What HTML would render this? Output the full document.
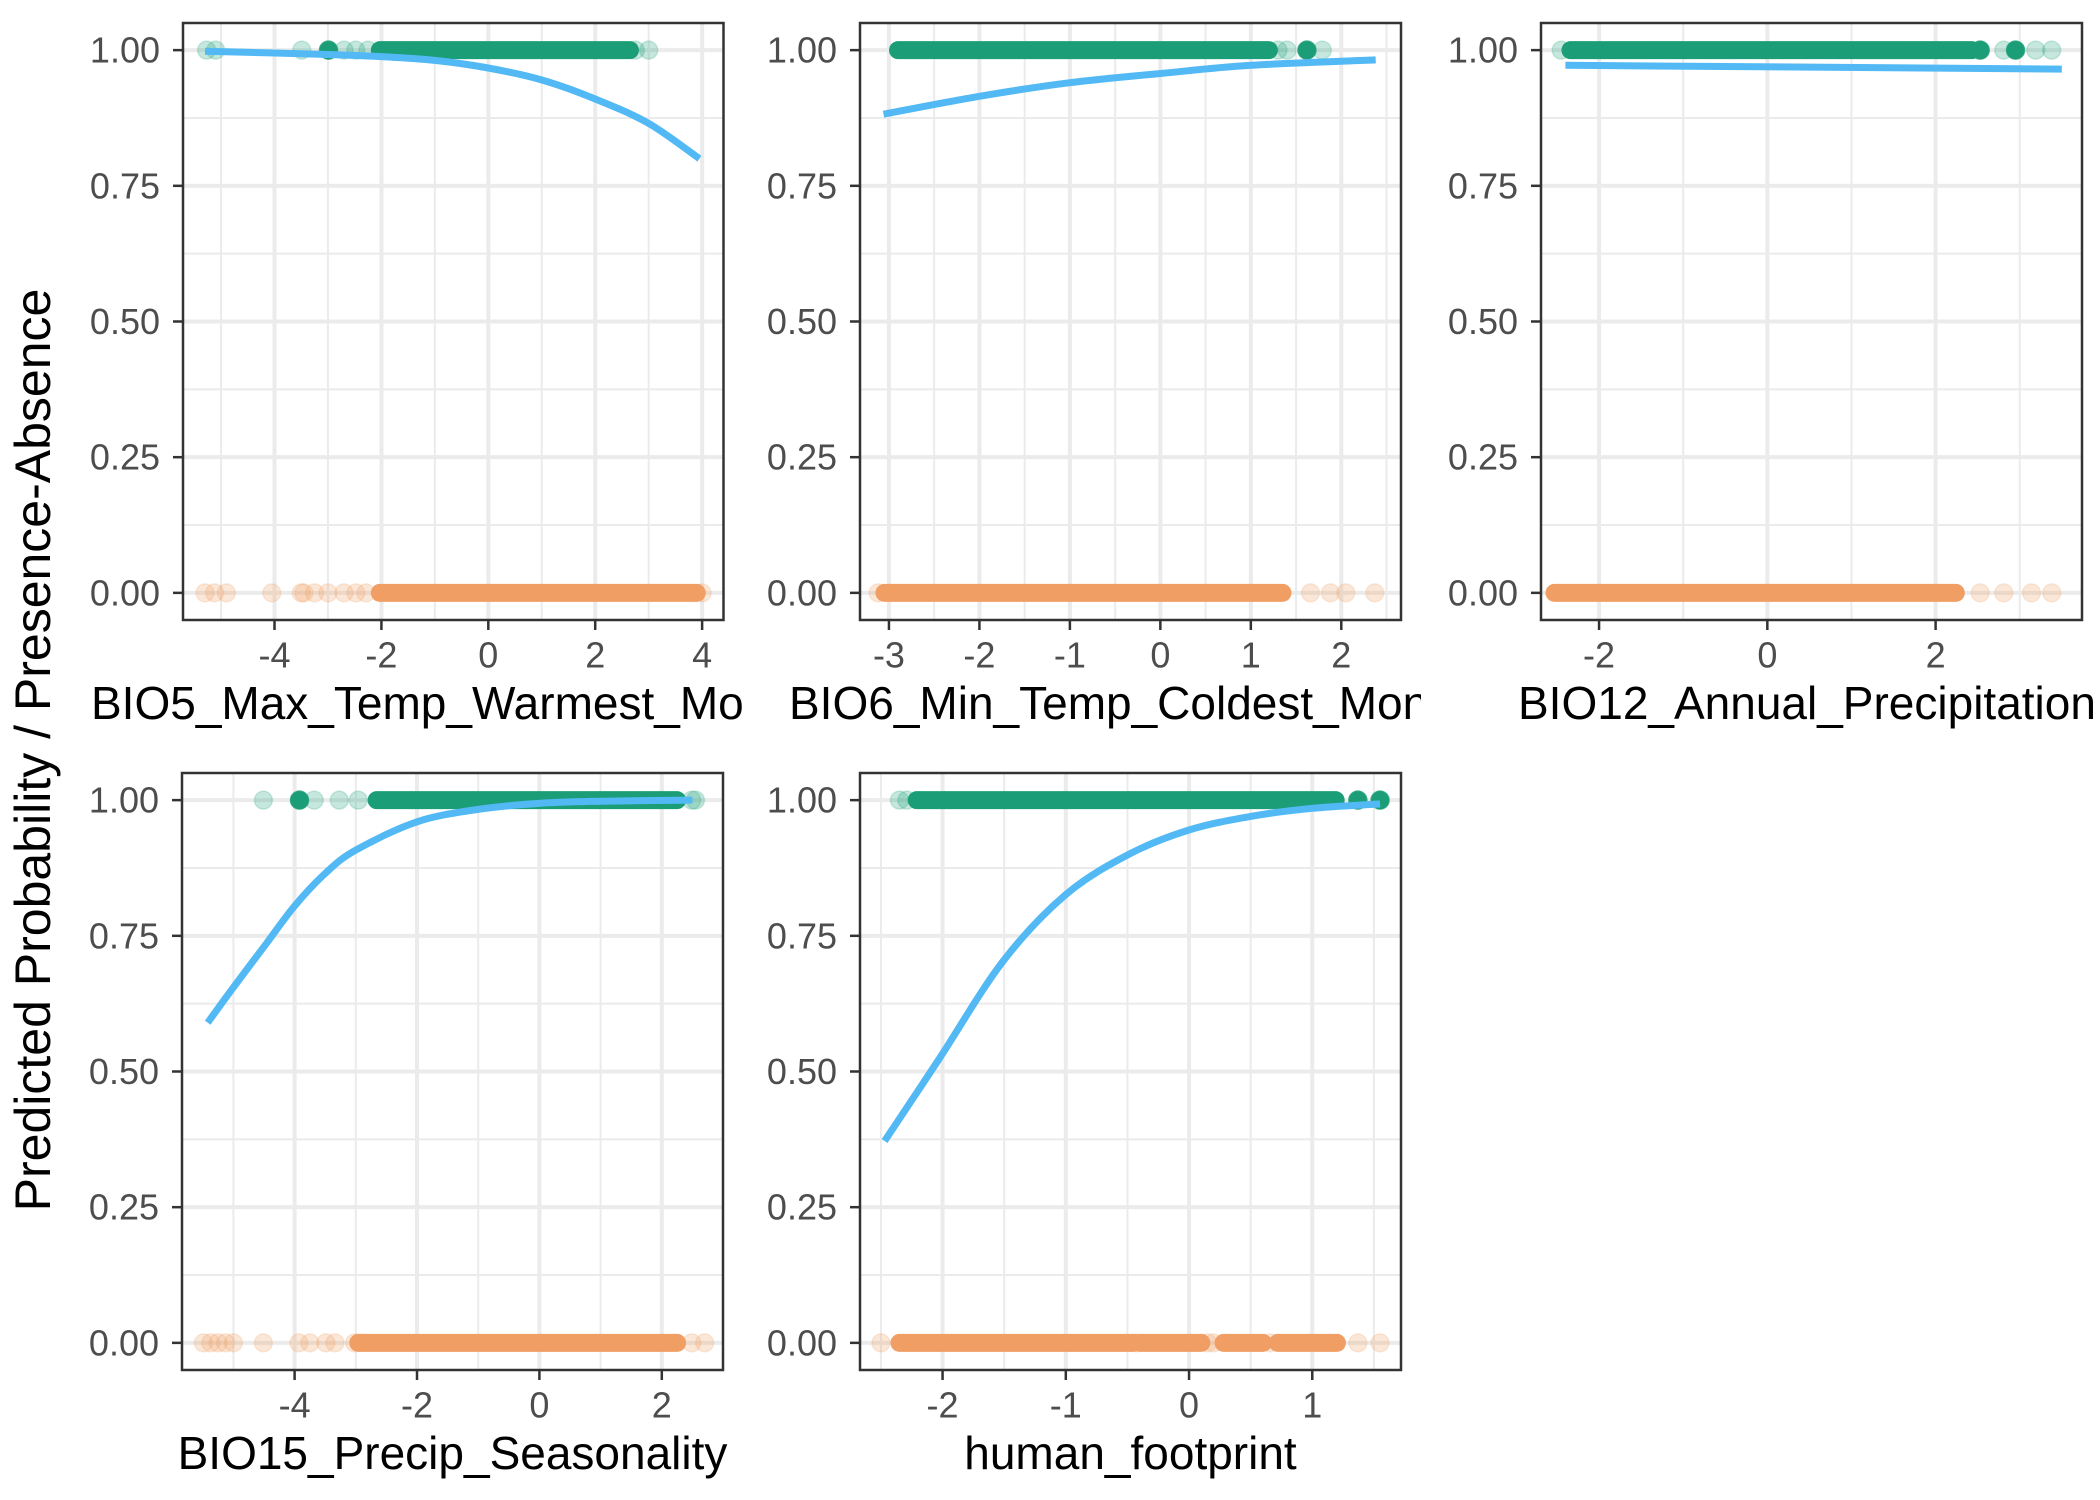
<!DOCTYPE html>
<html><head><meta charset="utf-8"><title>Predicted probability vs predictors</title>
<style>
html,body{margin:0;padding:0;background:#fff;}
svg{display:block;font-family:"Liberation Sans",Arial,sans-serif;}
</style></head>
<body>
<svg id="chart" width="2100" height="1500" viewBox="0 0 2100 1500" xmlns="http://www.w3.org/2000/svg">
<rect width="2100" height="1500" fill="#fff"/>
<text x="33" y="750" transform="rotate(-90 33 750)" text-anchor="middle" dominant-baseline="central" font-size="50" fill="#000">Predicted Probability / Presence-Absence</text>
</svg>
<script>
// ---- Data ----
const yTicks = [0, 0.25, 0.5, 0.75, 1];
const yTickLabels = ["0.00", "0.25", "0.50", "0.75", "1.00"];

const p1Title = "BIO5_Max_Temp_Warmest_Month";
const p1Ticks = [-4, -2, 0, 2, 4];
const p1CurveX = [-5.3, -3, -2, -1, 0, 1, 2, 3, 3.95];
const p1CurveY = [0.998, 0.992, 0.988, 0.981, 0.967, 0.945, 0.91, 0.865, 0.80];
const p1PresDense = [[-2.03, 2.65]];
const p1PresSolid = [-2.99];
const p1PresFaint = [-5.27, -5.1, -3.49, -2.7, -2.48, -2.25, 2.75, 3.0];
const p1AbsDense = [[-2.03, 3.9]];
const p1AbsFaint = [-5.3, -5.12, -4.9, -4.05, -3.5, -3.45, -3.25, -3.0, -2.7, -2.48, -2.29, 4.0];

const p2Title = "BIO6_Min_Temp_Coldest_Month";
const p2Ticks = [-3, -2, -1, 0, 1, 2];
const p2CurveX = [-3.06, -2, -1, 0, 1, 2.38];
const p2CurveY = [0.882, 0.915, 0.94, 0.957, 0.972, 0.982];
const p2PresDense = [[-2.9, 1.2]];
const p2PresSolid = [1.62];
const p2PresFaint = [1.3, 1.4, 1.79];
const p2AbsDense = [[-3.05, 1.35]];
const p2AbsFaint = [-3.12, 1.66, 1.88, 2.05, 2.37];

const p3Title = "BIO12_Annual_Precipitation";
const p3Ticks = [-2, 0, 2];
const p3CurveX = [-2.4, 3.5];
const p3CurveY = [0.972, 0.965];
const p3PresDense = [[-2.34, 2.43]];
const p3PresSolid = [2.53, 2.95];
const p3PresFaint = [-2.45, 2.81, 3.19, 3.38];
const p3AbsDense = [[-2.53, 2.24]];
const p3AbsFaint = [2.53, 2.81, 3.14, 3.38];

const p4Title = "BIO15_Precip_Seasonality";
const p4Ticks = [-4, -2, 0, 2];
const p4CurveX = [-5.42, -5, -4.5, -4, -3.5, -3, -2, -1, 0, 1, 2.5];
const p4CurveY = [0.59, 0.655, 0.73, 0.805, 0.865, 0.908, 0.96, 0.983, 0.994, 0.998, 1.0];
const p4PresDense = [[-2.66, 2.25]];
const p4PresSolid = [-3.92];
const p4PresFaint = [-4.51, -3.68, -3.27, -2.96, 2.49, 2.55];
const p4AbsDense = [[-2.96, 2.25]];
const p4AbsFaint = [-5.49, -5.37, -5.25, -5.13, -5.0, -4.51, -3.93, -3.75, -3.49, -3.34, -3.02, 2.49, 2.7];

const p5Title = "human_footprint";
const p5Ticks = [-2, -1, 0, 1];
const p5CurveX = [-2.47, -2.02, -1.51, -1.0, -0.49, 0, 0.5, 1, 1.55];
const p5CurveY = [0.372, 0.526, 0.703, 0.826, 0.90, 0.945, 0.97, 0.985, 0.993];
const p5PresDense = [[-2.21, 1.19]];
const p5PresSolid = [1.37, 1.55];
const p5PresFaint = [-2.35, -2.29];
const p5AbsDense = [[-2.35, -0.45], [-0.4, 0.1], [0.28, 0.6], [0.72, 1.2]];
const p5AbsFaint = [-2.5, -0.43, 0.15, 0.2, 0.66, 1.37, 1.55];

// ---- Layout ----
const NS = "http://www.w3.org/2000/svg";
const svg = document.getElementById("chart");
const panels = [
  {id:"bio5", title:p1Title, ticks:p1Ticks, cx:p1CurveX, cy:p1CurveY, pd:p1PresDense, ps:p1PresSolid, pf:p1PresFaint, ad:p1AbsDense, af:p1AbsFaint,
   left:183, right:723.5, top:23, bottom:620, dom:[-5.712, 4.40], tLeft:91, tClip:[0,745]},
  {id:"bio6", title:p2Title, ticks:p2Ticks, cx:p2CurveX, cy:p2CurveY, pd:p2PresDense, ps:p2PresSolid, pf:p2PresFaint, ad:p2AbsDense, af:p2AbsFaint,
   left:860, right:1401, top:23, bottom:620, dom:[-3.32, 2.66], tLeft:789, tClip:[760,1421]},
  {id:"bio12", title:p3Title, ticks:p3Ticks, cx:p3CurveX, cy:p3CurveY, pd:p3PresDense, ps:p3PresSolid, pf:p3PresFaint, ad:p3AbsDense, af:p3AbsFaint,
   left:1541, right:2082, top:23, bottom:620, dom:[-2.69, 3.74], tLeft:1518, tClip:[1440,2100]},
  {id:"bio15", title:p4Title, ticks:p4Ticks, cx:p4CurveX, cy:p4CurveY, pd:p4PresDense, ps:p4PresSolid, pf:p4PresFaint, ad:p4AbsDense, af:p4AbsFaint,
   left:182, right:723, top:773, bottom:1370, dom:[-5.84, 3.0], center:true},
  {id:"human-footprint", title:p5Title, ticks:p5Ticks, cx:p5CurveX, cy:p5CurveY, pd:p5PresDense, ps:p5PresSolid, pf:p5PresFaint, ad:p5AbsDense, af:p5AbsFaint,
   left:860, right:1401, top:773, bottom:1370, dom:[-2.67, 1.72], center:true}
];
const GREEN = "#1b9e77", ORANGE = "#f09e64", BLUE = "#52b9f5";
const R = 9;

function el(tag, attrs, parent) {
  const e = document.createElementNS(NS, tag);
  for (const k in attrs) e.setAttribute(k, attrs[k]);
  (parent || svg).appendChild(e);
  return e;
}

function smoothPath(pts) {
  if (pts.length < 3) return pts.map((p, i) => (i ? "L" : "M") + p[0].toFixed(1) + "," + p[1].toFixed(1)).join("");
  let d = "M" + pts[0][0].toFixed(1) + "," + pts[0][1].toFixed(1);
  for (let i = 0; i < pts.length - 1; i++) {
    const p0 = pts[Math.max(0, i - 1)], p1 = pts[i], p2 = pts[i + 1], p3 = pts[Math.min(pts.length - 1, i + 2)];
    const c1 = [p1[0] + (p2[0] - p0[0]) / 6, p1[1] + (p2[1] - p0[1]) / 6];
    const c2 = [p2[0] - (p3[0] - p1[0]) / 6, p2[1] - (p3[1] - p1[1]) / 6];
    d += "C" + c1[0].toFixed(1) + "," + c1[1].toFixed(1) + " " + c2[0].toFixed(1) + "," + c2[1].toFixed(1) + " " + p2[0].toFixed(1) + "," + p2[1].toFixed(1);
  }
  return d;
}

panels.forEach((p, idx) => {
  const g = el("g", {});
  
  
  const xs = v => p.left + (v - p.dom[0]) / (p.dom[1] - p.dom[0]) * (p.right - p.left);
  const y0 = p.top + (p.bottom - p.top) * (1.05 / 1.1);
  const ys = v => y0 - v * (p.bottom - p.top) / 1.1;

  const cp = el("clipPath", {id: "clip" + idx}, g);
  el("rect", {x: p.left, y: p.top, width: p.right - p.left, height: p.bottom - p.top}, cp);

  const minorY = [0.125, 0.375, 0.625, 0.875];
  minorY.forEach(v => {
    const l = el("line", {x1: p.left, x2: p.right, y1: ys(v), y2: ys(v), stroke: "#ebebeb", "stroke-width": 2}, g);
    
    
  });
  const step = p.ticks[1] - p.ticks[0];
  const minorX = [];
  for (let i = -1; i < p.ticks.length; i++) {
    const v = p.ticks[0] + step * (i + 0.5);
    if (v > p.dom[0] && v < p.dom[1]) minorX.push(v);
  }
  minorX.forEach(v => {
    const l = el("line", {x1: xs(v), x2: xs(v), y1: p.top, y2: p.bottom, stroke: "#ebebeb", "stroke-width": 2}, g);
    
    
  });
  yTicks.forEach(v => {
    const l = el("line", {x1: p.left, x2: p.right, y1: ys(v), y2: ys(v), stroke: "#ebebeb", "stroke-width": 4}, g);
    
    
  });
  p.ticks.forEach(v => {
    const l = el("line", {x1: xs(v), x2: xs(v), y1: p.top, y2: p.bottom, stroke: "#ebebeb", "stroke-width": 4}, g);
    
    
  });

  const pg = el("g", {"clip-path": "url(#clip" + idx + ")"}, g);
  function dense(spans, yv, color, name) {
    spans.forEach(s => {
      const r = el("rect", {x: xs(s[0]) - R, y: ys(yv) - R, width: xs(s[1]) - xs(s[0]) + 2 * R, height: 2 * R, rx: R, fill: color}, pg);
      
      
    });
  }
  function dots(vals, yv, color, op, name) {
    vals.forEach(v => {
      const c = el("circle", {cx: xs(v), cy: ys(yv), r: R, fill: color, "fill-opacity": op, stroke: color, "stroke-opacity": op * 0.8, "stroke-width": 1.5}, pg);
      
      
    });
  }
  dots(p.af, 0, ORANGE, 0.25, 'absence-point');
  dense(p.ad, 0, ORANGE, 'absence-points-dense');
  dots(p.pf, 1, GREEN, 0.25, 'presence-point');
  dense(p.pd, 1, GREEN, 'presence-points-dense');
  dots(p.ps, 1, GREEN, 1, 'presence-point-solid');

  const pts = p.cx.map((x, i) => [xs(x), ys(p.cy[i])]);
  const path = el("path", {d: smoothPath(pts), fill: "none", stroke: BLUE, "stroke-width": 7}, pg);
  
  

  const b = el("rect", {x: p.left, y: p.top, width: p.right - p.left, height: p.bottom - p.top, fill: "none", stroke: "#333", "stroke-width": 2.5}, g);
  
  

  yTicks.forEach((v, i) => {
    const t = el("line", {x1: p.left - 10, x2: p.left, y1: ys(v), y2: ys(v), stroke: "#333", "stroke-width": 2.5}, g);
    
    
    const tx = el("text", {x: p.left - 23, y: ys(v), "text-anchor": "end", "dominant-baseline": "central", "font-size": 36, fill: "#4d4d4d"}, g);
    tx.textContent = yTickLabels[i];
    
    
  });
  p.ticks.forEach(v => {
    const t = el("line", {x1: xs(v), x2: xs(v), y1: p.bottom, y2: p.bottom + 10, stroke: "#333", "stroke-width": 2.5}, g);
    
    
    const tx = el("text", {x: xs(v), y: p.bottom + 35, "text-anchor": "middle", "dominant-baseline": "central", "font-size": 36, fill: "#4d4d4d"}, g);
    tx.textContent = String(v);
    
    
  });
  const ty = p.bottom + 83;
  let tt;
  if (p.center) {
    tt = el("text", {x: (p.left + p.right) / 2, y: ty, "text-anchor": "middle", "dominant-baseline": "central", "font-size": 46, fill: "#000"}, g);
  } else {
    const tc = el("clipPath", {id: "tclip" + idx}, g);
    el("rect", {x: p.tClip[0], y: ty - 40, width: p.tClip[1] - p.tClip[0], height: 80}, tc);
    tt = el("text", {x: p.tLeft, y: ty, "dominant-baseline": "central", "font-size": 46, fill: "#000", "clip-path": "url(#tclip" + idx + ")"}, g);
  }
  tt.textContent = p.title;
  
  
});
</script>
</body></html>
